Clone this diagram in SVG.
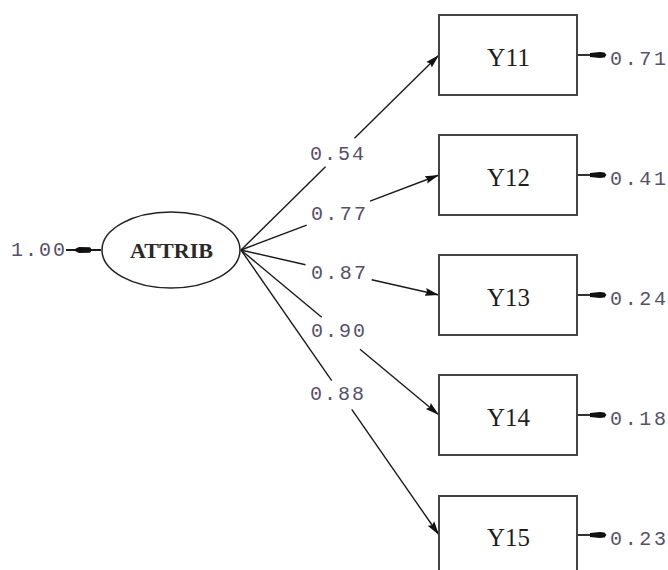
<svg xmlns="http://www.w3.org/2000/svg" width="668" height="570" viewBox="0 0 668 570">
  <style>
    .box { fill: #ffffff; stroke: #444444; stroke-width: 2; }
    .lat { fill: #ffffff; stroke: #222222; stroke-width: 1.5; }
    .path { stroke: #1a1a1a; stroke-width: 1.4; fill: none; }
    .err { stroke: #1a1a1a; stroke-width: 1.8; fill: none; }
    .blob { fill: #111111; }
    .coef { font-family: "Liberation Mono", "Courier New", monospace; font-size: 20px; fill: #55506c; }
    .var { font-family: "Liberation Serif", "Times New Roman", serif; font-size: 26px; fill: #1e1e1e; }
    .latlbl { font-family: "Liberation Serif", "Times New Roman", serif; font-size: 22px; font-weight: bold; fill: #2a2a2a; }
  </style>
  <defs>
    <marker id="head" viewBox="0 0 14 9" refX="14" refY="4.5" markerWidth="14" markerHeight="9" markerUnits="userSpaceOnUse" orient="auto">
      <path d="M0,0.6 L14,4.5 L0,8.4 L2,4.5 Z" fill="#111111"/>
    </marker>
  </defs>
  <rect width="668" height="570" fill="#ffffff"/>

  <!-- loadings from ATTRIB to each indicator, broken around their values -->
  <g id="connectors">
    <line class="path" x1="241" y1="250" x2="325.5" y2="166.8"/>
    <line class="path" x1="354.5" y1="138.2" x2="439" y2="55" marker-end="url(#head)"/>
    <line class="path" x1="241" y1="250" x2="306.7" y2="225.1"/>
    <line class="path" x1="370" y1="201.1" x2="439" y2="175" marker-end="url(#head)"/>
    <line class="path" x1="241" y1="250" x2="305.5" y2="264.7"/>
    <line class="path" x1="371.7" y1="279.7" x2="439" y2="295" marker-end="url(#head)"/>
    <line class="path" x1="241" y1="250" x2="321.7" y2="317.3"/>
    <line class="path" x1="360" y1="349.2" x2="439" y2="415" marker-end="url(#head)"/>
    <line class="path" x1="241" y1="250" x2="331.7" y2="380.6"/>
    <line class="path" x1="351.7" y1="409.3" x2="439" y2="535" marker-end="url(#head)"/>

    <!-- error terms -->
    <line class="err" x1="66" y1="250" x2="101" y2="250"/>
    <path class="blob" d="M73,250 L79,247 L90,247.2 L92,250 L90,252.8 L79,253 Z"/>
    <line class="err" x1="578" y1="55" x2="600" y2="55"/>
    <path class="blob" d="M590,53 L600,52 L604.5,52.6 L606.5,55 L604.5,57.4 L600,58 L590,57 Z"/>
    <line class="err" x1="578" y1="175" x2="600" y2="175"/>
    <path class="blob" d="M590,173 L600,172 L604.5,172.6 L606.5,175 L604.5,177.4 L600,178 L590,177 Z"/>
    <line class="err" x1="578" y1="295" x2="600" y2="295"/>
    <path class="blob" d="M590,293 L600,292 L604.5,292.6 L606.5,295 L604.5,297.4 L600,298 L590,297 Z"/>
    <line class="err" x1="578" y1="415" x2="600" y2="415"/>
    <path class="blob" d="M590,413 L600,412 L604.5,412.6 L606.5,415 L604.5,417.4 L600,418 L590,417 Z"/>
    <line class="err" x1="578" y1="535" x2="600" y2="535"/>
    <path class="blob" d="M590,533 L600,532 L604.5,532.6 L606.5,535 L604.5,537.4 L600,538 L590,537 Z"/>
  </g>

  <!-- loading values -->
  <g id="loadings">
    <text class="coef" x="310" y="160" textLength="54" lengthAdjust="spacing">0.54</text>
    <text class="coef" x="311" y="220" textLength="55" lengthAdjust="spacing">0.77</text>
    <text class="coef" x="311" y="279" textLength="55" lengthAdjust="spacing">0.87</text>
    <text class="coef" x="311" y="337" textLength="54" lengthAdjust="spacing">0.90</text>
    <text class="coef" x="310" y="400" textLength="54" lengthAdjust="spacing">0.88</text>
  </g>

  <g id="ATTRIB">
    <ellipse class="lat" cx="171" cy="250" rx="69" ry="38"/>
    <text class="latlbl" x="130" y="258" textLength="83" lengthAdjust="spacingAndGlyphs">ATTRIB</text>
    <text class="coef" x="11" y="256" textLength="54" lengthAdjust="spacing">1.00</text>
  </g>

  <g id="Y11">
    <rect class="box" x="439" y="15" width="138" height="80"/>
    <text class="var" x="487" y="66" textLength="43" lengthAdjust="spacingAndGlyphs">Y11</text>
    <text class="coef" x="610" y="65" textLength="56" lengthAdjust="spacing">0.71</text>
  </g>
  <g id="Y12">
    <rect class="box" x="439" y="135" width="138" height="80"/>
    <text class="var" x="487" y="186" textLength="43" lengthAdjust="spacingAndGlyphs">Y12</text>
    <text class="coef" x="610" y="185" textLength="56" lengthAdjust="spacing">0.41</text>
  </g>
  <g id="Y13">
    <rect class="box" x="439" y="255" width="138" height="80"/>
    <text class="var" x="487" y="306" textLength="43" lengthAdjust="spacingAndGlyphs">Y13</text>
    <text class="coef" x="610" y="305" textLength="56" lengthAdjust="spacing">0.24</text>
  </g>
  <g id="Y14">
    <rect class="box" x="439" y="375" width="138" height="80"/>
    <text class="var" x="487" y="426" textLength="43" lengthAdjust="spacingAndGlyphs">Y14</text>
    <text class="coef" x="610" y="425" textLength="56" lengthAdjust="spacing">0.18</text>
  </g>
  <g id="Y15">
    <rect class="box" x="439" y="496" width="138" height="80"/>
    <text class="var" x="487" y="546" textLength="43" lengthAdjust="spacingAndGlyphs">Y15</text>
    <text class="coef" x="610" y="545" textLength="56" lengthAdjust="spacing">0.23</text>
  </g>
</svg>
